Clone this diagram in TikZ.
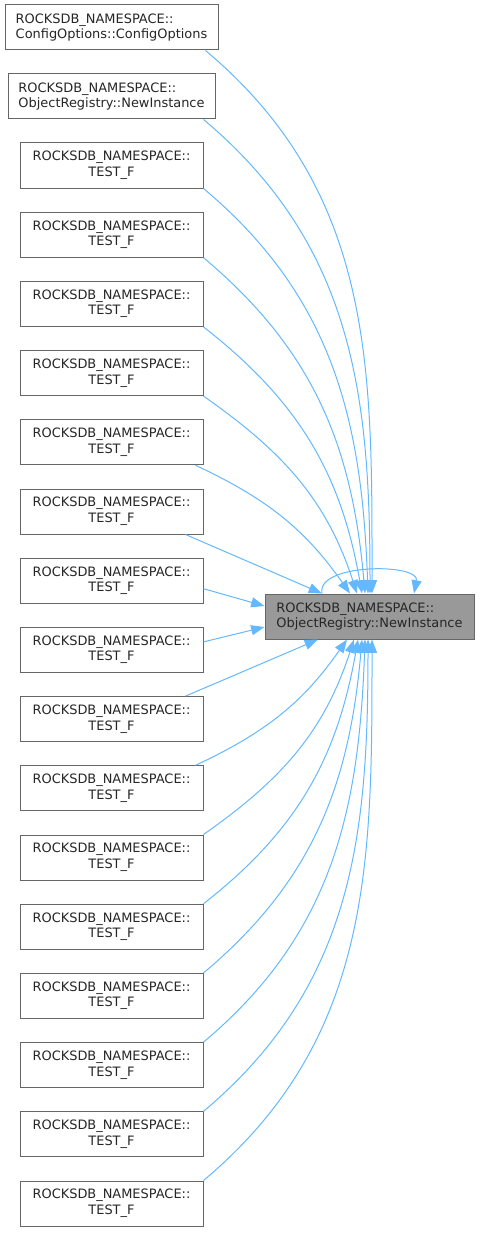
\documentclass[tikz,border=0pt]{standalone}
\usepackage{fontspec}
\setmainfont{DejaVu Sans}
\usetikzlibrary{arrows.meta,calc}
\definecolor{edgeblue}{HTML}{63B8FF}
\definecolor{boxgray}{HTML}{666666}
\definecolor{mainfill}{HTML}{999999}

\begin{document}
\begin{tikzpicture}[x=0.75pt, y=-0.75pt,
        fn/.style={draw=boxgray, line width=0.75pt, fill=white, minimum height=33.75pt, inner sep=0pt, text=black!85, font=\fontsize{9.7}{11.7}\selectfont},
        edge/.style={draw=edgeblue, line width=0.75pt, -{Triangle[length=10pt, width=7.5pt]}}]
        \useasboundingbox (0,0) rectangle (480,1234);

        % callers
        \node[fn, align=left, minimum width=159.75pt] (c1) at (111.5, 27.5) {ROCKSDB\_NAMESPACE::\\ConfigOptions::ConfigOptions};
        \node[fn, align=left, minimum width=155.25pt] (c2) at (111.5, 96.5) {ROCKSDB\_NAMESPACE::\\ObjectRegistry::NewInstance};
        \foreach \i in {3,...,18}
            \node[fn, align=center, minimum width=137.25pt] (t\i) at (111.5, {165.5+69.2*(\i-3)}) {ROCKSDB\_NAMESPACE::\\TEST\_F};

        % called function
        \node[fn, fill=mainfill, align=left, minimum width=156.75pt] (main) at (369.5, 616.5) {ROCKSDB\_NAMESPACE::\\ObjectRegistry::NewInstance};

        % edges from above
        \draw[edge] ($(c1.south east)+(-13,0)$) to[out=-40, in=90] ($(main.north)+(2.5,0)$);
        \draw[edge] ($(c2.south east)+(-12,0)$) to[out=-40, in=90] ($(main.north)+(0.5,0)$);
        \foreach \i/\s/\dx/\o/\n in {3/0/-1.5/-40/92, 4/0/-4.5/-40/95, 5/0/-7.5/-38/100, 6/0/-12.5/-35/108, 7/-8/-19.5/-25/125}
            \draw[edge] ($(t\i.south east)+(\s,0)$) to[out=\o, in=\n] ($(main.north)+(\dx,0)$);
        \draw[edge] ($(t8.south east)+(-18,0)$) -- ($(main.north)+(-47.5,0)$);
        \draw[edge] ($(t9.east)+(0,8)$) -- ($(main.west)+(0,-10.5)$);
        \draw[edge] ($(t10.east)+(0,-8)$) -- ($(main.west)+(0,10.5)$);

        % edges from below
        \draw[edge] ($(t11.north east)+(-18,0)$) -- ($(main.south)+(-51.5,0)$);
        \foreach \i/\s/\dx/\o/\n in {12/-8/-22.5/25/-125, 13/0/-15.5/35/-108, 14/0/-11.5/38/-100, 15/0/-7.5/40/-95, 16/0/-4.5/40/-92, 17/0/-1.5/40/-90, 18/0/2.5/40/-90}
            \draw[edge] ($(t\i.north east)+(\s,0)$) to[out=\o, in=\n] ($(main.south)+(\dx,0)$);

        % recursion
        \draw[edge] ($(main.north)+(-47.5,0)$) .. controls (316,563) and (420,563) .. ($(main.north)+(44.5,0)$);
\end{tikzpicture}
\end{document}
